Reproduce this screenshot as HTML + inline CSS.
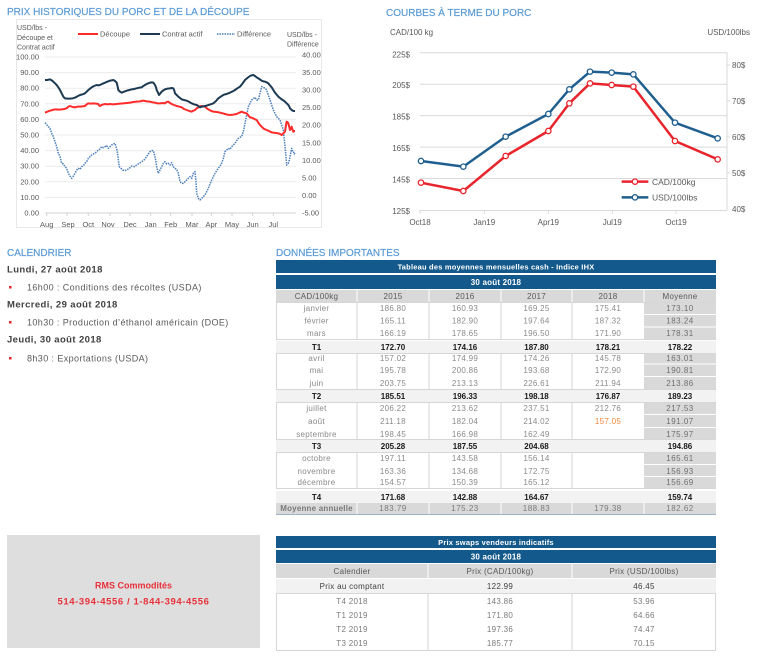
<!DOCTYPE html>
<html><head><meta charset="utf-8"><style>
html,body{margin:0;padding:0;background:#fff;}
svg{display:block;}
text{font-family:"Liberation Sans",sans-serif;}
.h{font-size:10px;fill:#5b9bd5;stroke:#5b9bd5;stroke-width:0.2px;}
.ax{font-size:7.5px;fill:#595959;}
.ax8{font-size:8px;fill:#595959;}
.v{font-size:8px;fill:#8a8a8a;letter-spacing:.3px;text-anchor:middle;}
.m{font-size:8px;fill:#6f6f6f;letter-spacing:.5px;text-anchor:middle;}
.b{font-size:8px;fill:#1a1a1a;font-weight:bold;text-anchor:middle;}
.hd{font-size:8px;fill:#595959;letter-spacing:.3px;text-anchor:middle;}
.w{font-size:7.5px;fill:#fff;font-weight:bold;text-anchor:middle;letter-spacing:.2px;}
.cal{font-size:9px;fill:#595959;letter-spacing:.4px;}
.calb{font-size:9.5px;fill:#404040;font-weight:bold;letter-spacing:.4px;}
</style></head><body>
<svg width="766" height="661" viewBox="0 0 766 661" xmlns="http://www.w3.org/2000/svg">
<rect width="766" height="661" fill="#fff"/>

<!-- ============ LEFT CHART ============ -->
<text class="h" x="7" y="15">PRIX HISTORIQUES DU PORC ET DE LA DÉCOUPE</text>
<rect x="16.5" y="19.5" width="305" height="208" fill="none" stroke="#e8e8e8"/>
<g stroke="#ececec" stroke-width="1">
<line x1="45" y1="57" x2="296" y2="57"/><line x1="45" y1="72.6" x2="296" y2="72.6"/>
<line x1="45" y1="88.2" x2="296" y2="88.2"/><line x1="45" y1="103.8" x2="296" y2="103.8"/>
<line x1="45" y1="119.4" x2="296" y2="119.4"/><line x1="45" y1="135" x2="296" y2="135"/>
<line x1="45" y1="150.6" x2="296" y2="150.6"/><line x1="45" y1="166.2" x2="296" y2="166.2"/>
<line x1="45" y1="181.8" x2="296" y2="181.8"/><line x1="45" y1="197.4" x2="296" y2="197.4"/>
</g>
<line x1="45" y1="213" x2="296" y2="213" stroke="#d0d0d0"/>
<g stroke="#d0d0d0">
<line x1="46.7" y1="213" x2="46.7" y2="216"/><line x1="67" y1="213" x2="67" y2="216"/><line x1="88.3" y1="213" x2="88.3" y2="216"/><line x1="110" y1="213" x2="110" y2="216"/><line x1="130" y1="213" x2="130" y2="216"/><line x1="150.7" y1="213" x2="150.7" y2="216"/><line x1="170.7" y1="213" x2="170.7" y2="216"/><line x1="192" y1="213" x2="192" y2="216"/><line x1="211.3" y1="213" x2="211.3" y2="216"/><line x1="232" y1="213" x2="232" y2="216"/><line x1="252.7" y1="213" x2="252.7" y2="216"/><line x1="273.3" y1="213" x2="273.3" y2="216"/>
</g>
<g class="ax" text-anchor="end">
<text x="39" y="59.5">100.00</text><text x="39" y="75.1">90.00</text><text x="39" y="90.7">80.00</text>
<text x="39" y="106.3">70.00</text><text x="39" y="121.9">60.00</text><text x="39" y="137.5">50.00</text>
<text x="39" y="153.1">40.00</text><text x="39" y="168.7">30.00</text><text x="39" y="184.3">20.00</text>
<text x="39" y="199.9">10.00</text><text x="39" y="215.5">0.00</text>
</g>
<g class="ax">
<text x="302" y="57.5">40.00</text><text x="302" y="75.1">35.00</text><text x="302" y="92.6">30.00</text>
<text x="302" y="110.2">25.00</text><text x="302" y="127.7">20.00</text><text x="302" y="145.3">15.00</text>
<text x="302" y="162.8">10.00</text><text x="302" y="180.4">5.00</text><text x="302" y="197.9">0.00</text>
<text x="302" y="215.5">-5.00</text>
</g>
<g class="ax" text-anchor="middle">
<text x="46.7" y="227">Aug</text><text x="68" y="227">Sep</text><text x="88.3" y="227">Oct</text><text x="108" y="227">Nov</text><text x="130" y="227">Dec</text><text x="150.7" y="227">Jan</text><text x="170.7" y="227">Feb</text><text x="192" y="227">Mar</text><text x="211.3" y="227">Apr</text><text x="232" y="227">May</text><text x="252.7" y="227">Jun</text><text x="273.3" y="227">Jul</text>
</g>
<g class="ax" style="font-size:7px">
<text x="17" y="30">USD/lbs -</text><text x="17" y="40">Découpe et</text><text x="17" y="49.5">Contrat actif</text>
<text x="287" y="37">USD/lbs -</text><text x="287" y="46.5">Différence</text>
</g>
<!-- legend -->
<line x1="78" y1="34" x2="98" y2="34" stroke="#ff2b2b" stroke-width="2"/>
<text class="ax" x="100" y="36.5">Découpe</text>
<line x1="140" y1="34" x2="160" y2="34" stroke="#1c3a52" stroke-width="2"/>
<text class="ax" x="162" y="36.5">Contrat actif</text>
<line x1="217" y1="34" x2="235" y2="34" stroke="#4a7ebb" stroke-width="1.5" stroke-dasharray="1.5 1"/>
<text class="ax" x="237" y="36.5">Différence</text>
<!-- series -->
<g transform="scale(0.333333)" fill="none" stroke-linejoin="round">
<polyline stroke="#4a7ebb" stroke-width="4.5" stroke-dasharray="4.5 3" points="135,368 145,380 150,385 155,400 160,410 165,425 170,440 175,460 180,470 185,490 190,492 195,500 200,505 205,520 210,528 215,535 220,528 225,520 230,510 235,505 240,508 245,500 250,497 255,490 260,485 265,475 270,470 275,465 280,462 285,460 290,455 295,450 300,447 305,440 310,443 315,440 320,437 325,445 330,440 335,435 340,432 345,430 348,440 352,455 355,480 358,500 363,505 368,510 374,512 380,510 388,505 395,498 403,500 410,495 418,490 425,485 432,480 440,470 445,462 450,455 455,452 460,452 463,462 467,480 470,500 475,520 480,510 485,500 490,490 495,485 500,492 505,490 510,495 515,488 518,495 520,500 525,505 530,508 535,520 540,545 545,550 550,550 555,545 560,540 565,535 570,530 575,535 580,520 585,515 588,545 590,580 595,595 600,600 605,595 610,590 615,585 620,575 625,565 630,552 635,540 640,530 645,520 650,512 655,505 660,498 665,490 670,475 675,455 680,450 685,445 690,448 695,440 700,435 705,430 710,422 715,415 720,412 725,410 730,395 735,370 740,345 745,320 750,310 755,300 760,296 765,292 770,300 775,300 780,280 785,260 790,262 795,265 800,270 805,285 810,300 815,315 820,330 825,340 830,350 835,355 840,360 845,375 850,390 853,420 855,440 858,470 860,495 863,492 865,490 868,480 870,470 873,455 875,445 878,455 880,455 883,462 885,460"/>
<polyline stroke="#ff2b2b" stroke-width="6" points="135,338 142,335 150,332 158,330 165,328 175,329 185,328 193,327 200,325 205,320 210,318 218,321 225,322 232,320 240,320 248,319 255,318 260,313 265,310 272,311 280,310 288,311 295,312 298,317 300,318 307,314 315,312 322,313 330,312 340,313 350,312 360,311 370,310 380,309 390,308 400,306 410,305 420,304 430,302 440,304 450,305 458,307 465,308 472,310 480,310 488,309 495,310 500,306 505,305 510,309 515,312 522,315 530,318 538,320 545,322 552,327 560,330 568,333 575,335 580,332 585,330 590,325 595,322 600,319 605,318 610,319 615,320 620,325 625,328 632,332 640,335 650,336 660,338 668,340 675,342 682,344 690,345 700,344 710,342 718,338 725,335 732,338 740,340 745,346 750,352 755,353 760,355 765,358 770,360 775,368 780,375 785,380 790,385 795,388 800,390 805,392 810,395 815,397 820,398 828,399 835,400 840,402 845,405 850,400 855,395 858,375 860,365 863,367 865,370 868,382 870,390 873,385 875,380 878,390 880,395 883,393 885,393"/>
<polyline stroke="#1c3a52" stroke-width="6" points="135,240 142,240 150,238 155,241 160,245 165,250 170,255 175,262 180,270 185,280 190,290 195,295 202,296 210,296 218,295 225,293 232,289 240,285 248,283 255,280 260,275 265,270 270,266 275,262 282,258 290,255 295,256 300,255 308,251 315,248 322,245 330,242 335,241 340,240 345,243 350,248 353,260 355,270 360,275 365,278 372,275 380,272 388,270 395,268 402,267 410,265 418,263 425,262 430,258 435,255 442,251 450,248 455,247 460,248 463,252 465,255 468,262 470,270 474,278 477,285 481,280 485,275 490,271 495,268 502,266 510,265 515,264 520,265 523,272 525,280 530,285 535,290 540,294 545,298 552,300 560,302 568,306 575,310 582,313 590,315 595,318 600,322 603,321 605,320 610,319 615,318 620,317 625,315 632,313 640,310 648,303 655,295 662,290 670,285 675,283 680,282 685,280 690,278 698,274 705,270 712,265 720,260 728,250 735,240 742,234 750,228 755,226 760,225 765,228 770,232 778,237 785,242 790,244 795,245 800,247 805,250 810,256 815,262 820,270 825,278 830,284 835,290 840,294 845,298 850,301 855,305 860,310 865,315 868,320 870,325 874,329 878,332 882,333 885,333"/>
</g>

<!-- ============ RIGHT CHART ============ -->
<text class="h" x="386" y="16">COURBES À TERME DU PORC</text>
<text class="ax8" x="390" y="35">CAD/100 kg</text>
<text class="ax8" x="750" y="35" text-anchor="end">USD/100lbs</text>
<g stroke="#d9d9d9" stroke-width="1">
<line x1="420" y1="52.7" x2="727" y2="52.7"/><line x1="420" y1="84.2" x2="727" y2="84.2"/>
<line x1="420" y1="115.6" x2="727" y2="115.6"/><line x1="420" y1="147.1" x2="727" y2="147.1"/>
<line x1="420" y1="178.5" x2="727" y2="178.5"/>
<line x1="420" y1="210.5" x2="727" y2="210.5"/>
<line x1="727" y1="52.7" x2="727" y2="210.5"/>
<line x1="420" y1="210" x2="420" y2="214"/><line x1="484.3" y1="210" x2="484.3" y2="214"/><line x1="548.3" y1="210" x2="548.3" y2="214"/><line x1="612.3" y1="210" x2="612.3" y2="214"/><line x1="676" y1="210" x2="676" y2="214"/>
<line x1="727" y1="65" x2="730" y2="65"/><line x1="727" y1="101" x2="730" y2="101"/><line x1="727" y1="137" x2="730" y2="137"/><line x1="727" y1="173" x2="730" y2="173"/>
</g>
<g class="ax8" text-anchor="end">
<text x="410" y="57.5">225$</text><text x="410" y="88">205$</text><text x="410" y="119.5">185$</text>
<text x="410" y="151">165$</text><text x="410" y="182.5">145$</text><text x="410" y="214">125$</text>
</g>
<g class="ax8">
<text x="732" y="68">80$</text><text x="732" y="104">70$</text><text x="732" y="140">60$</text>
<text x="732" y="176">50$</text><text x="732" y="212">40$</text>
</g>
<g class="ax8" text-anchor="middle">
<text x="420" y="225">Oct18</text><text x="484.3" y="225">Jan19</text><text x="548.3" y="225">Apr19</text><text x="612.3" y="225">Jul19</text><text x="676" y="225">Oct19</text>
</g>
<g transform="translate(370,0) scale(0.333333)" fill="none" stroke-linejoin="round">
<polyline stroke="#e8252d" stroke-width="7.5" points="153,548 280,573 407,468 535,393 598,310 660,250 725,255 790,260 915,423 1043,478"/>
<polyline stroke="#1f5f8f" stroke-width="7.5" points="153,483 280,500 407,410 535,342 598,268 660,215 725,218 790,223 915,368 1043,415"/>
<g fill="#fff" stroke="#e8252d" stroke-width="4">
<circle cx="153" cy="548" r="8"/><circle cx="280" cy="573" r="8"/><circle cx="407" cy="468" r="8"/><circle cx="535" cy="393" r="8"/><circle cx="598" cy="310" r="8"/><circle cx="660" cy="250" r="8"/><circle cx="725" cy="255" r="8"/><circle cx="790" cy="260" r="8"/><circle cx="915" cy="423" r="8"/><circle cx="1043" cy="478" r="8"/>
</g>
<g fill="#fff" stroke="#1f5f8f" stroke-width="4">
<circle cx="153" cy="483" r="8"/><circle cx="280" cy="500" r="8"/><circle cx="407" cy="410" r="8"/><circle cx="535" cy="342" r="8"/><circle cx="598" cy="268" r="8"/><circle cx="660" cy="215" r="8"/><circle cx="725" cy="218" r="8"/><circle cx="790" cy="223" r="8"/><circle cx="915" cy="368" r="8"/><circle cx="1043" cy="415" r="8"/>
</g>
<line x1="755" y1="545" x2="835" y2="545" stroke="#e8252d" stroke-width="7.5"/>
<circle cx="795" cy="545" r="8" fill="#fff" stroke="#e8252d" stroke-width="4"/>
<line x1="755" y1="592" x2="835" y2="592" stroke="#1f5f8f" stroke-width="7.5"/>
<circle cx="795" cy="592" r="8" fill="#fff" stroke="#1f5f8f" stroke-width="4"/>
</g>
<text class="ax8" x="652" y="185" style="font-size:8.5px">CAD/100kg</text>
<text class="ax8" x="652" y="200.5" style="font-size:8.5px">USD/100lbs</text>

<!-- ============ CALENDRIER ============ -->
<text class="h" x="7" y="256">CALENDRIER</text>
<text class="calb" x="7" y="272.5">Lundi, 27 août 2018</text>
<rect x="9" y="286" width="2.5" height="2.5" fill="#e8252d"/>
<text class="cal" x="27" y="290.5">16h00 : Conditions des récoltes (USDA)</text>
<text class="calb" x="7" y="307.5">Mercredi, 29 août 2018</text>
<rect x="9" y="321" width="2.5" height="2.5" fill="#e8252d"/>
<text class="cal" x="27" y="325.5">10h30 : Production d’éthanol américain (DOE)</text>
<text class="calb" x="7" y="342.5">Jeudi, 30 août 2018</text>
<rect x="9" y="357" width="2.5" height="2.5" fill="#e8252d"/>
<text class="cal" x="27" y="361.5">8h30 : Exportations (USDA)</text>

<!-- ============ DONNEES IMPORTANTES ============ -->
<text class="h" x="276" y="256">DONNÉES IMPORTANTES</text>
<rect x="276" y="260" width="440" height="13" fill="#13598b"/>
<rect x="276" y="275" width="440" height="14" fill="#13598b"/>
<text class="w" x="496" y="269.5">Tableau des moyennes mensuelles cash - Indice IHX</text>
<text class="w" x="496" y="285" style="font-size:8px">30 août 2018</text>
<rect x="276" y="290" width="440" height="12" fill="#d9d9d9"/>
<g stroke="#fff"><line x1="357" y1="290" x2="357" y2="302"/><line x1="429" y1="290" x2="429" y2="302"/><line x1="501" y1="290" x2="501" y2="302"/><line x1="572" y1="290" x2="572" y2="302"/><line x1="644" y1="290" x2="644" y2="302"/></g>
<g class="hd"><text x="316.5" y="299">CAD/100kg</text><text x="393" y="299">2015</text><text x="465" y="299">2016</text><text x="536.5" y="299">2017</text><text x="608" y="299">2018</text><text x="680" y="299">Moyenne</text></g>

<!-- blocks -->
<g fill="#fff" stroke="#d6d6d6">
<rect x="276.5" y="302.5" width="439" height="37"/>
<rect x="276.5" y="353.5" width="439" height="36"/>
<rect x="276.5" y="402.5" width="439" height="37"/>
<rect x="276.5" y="452.5" width="439" height="36"/>
</g>
<g fill="#d9d9d9">
<rect x="644" y="303" width="72" height="36"/><rect x="644" y="354" width="72" height="35"/><rect x="644" y="403" width="72" height="36"/><rect x="644" y="453" width="72" height="35"/>
</g>
<g stroke="#fff"><line x1="644" y1="314.5" x2="716" y2="314.5"/><line x1="644" y1="327" x2="716" y2="327"/><line x1="644" y1="364" x2="716" y2="364"/><line x1="644" y1="376.5" x2="716" y2="376.5"/><line x1="644" y1="414.5" x2="716" y2="414.5"/><line x1="644" y1="427.5" x2="716" y2="427.5"/><line x1="644" y1="464.5" x2="716" y2="464.5"/><line x1="644" y1="476.5" x2="716" y2="476.5"/></g>
<g stroke="#d6d6d6">
<line x1="357" y1="303" x2="357" y2="339"/><line x1="429" y1="303" x2="429" y2="339"/><line x1="501" y1="303" x2="501" y2="339"/><line x1="572" y1="303" x2="572" y2="339"/>
<line x1="357" y1="354" x2="357" y2="389"/><line x1="429" y1="354" x2="429" y2="389"/><line x1="501" y1="354" x2="501" y2="389"/><line x1="572" y1="354" x2="572" y2="389"/>
<line x1="357" y1="403" x2="357" y2="439"/><line x1="429" y1="403" x2="429" y2="439"/><line x1="501" y1="403" x2="501" y2="439"/><line x1="572" y1="403" x2="572" y2="439"/>
<line x1="357" y1="453" x2="357" y2="488"/><line x1="429" y1="453" x2="429" y2="488"/><line x1="501" y1="453" x2="501" y2="488"/><line x1="572" y1="453" x2="572" y2="488"/>
</g>
<g fill="#f2f2f2">
<rect x="276" y="341" width="440" height="12"/><rect x="276" y="390" width="440" height="12"/><rect x="276" y="440" width="440" height="12"/><rect x="276" y="491" width="440" height="12"/>
</g>
<rect x="276" y="503" width="440" height="11" fill="#d9d9d9"/>
<line x1="276" y1="514.5" x2="716" y2="514.5" stroke="#9db3c8"/>
<g stroke="#fff"><line x1="357" y1="503" x2="357" y2="514"/><line x1="429" y1="503" x2="429" y2="514"/><line x1="501" y1="503" x2="501" y2="514"/><line x1="572" y1="503" x2="572" y2="514"/><line x1="644" y1="503" x2="644" y2="514"/></g>

<!-- Q1 -->
<g class="v"><text x="316.5" y="311">janvier</text><text x="393" y="311">186.80</text><text x="465" y="311">160.93</text><text x="536.5" y="311">169.25</text><text x="608" y="311">175.41</text></g>
<text class="m" x="680" y="311">173.10</text>
<g class="v"><text x="316.5" y="323.5">février</text><text x="393" y="323.5">165.11</text><text x="465" y="323.5">182.90</text><text x="536.5" y="323.5">197.64</text><text x="608" y="323.5">187.32</text></g>
<text class="m" x="680" y="323.5">183.24</text>
<g class="v"><text x="316.5" y="336">mars</text><text x="393" y="336">166.19</text><text x="465" y="336">178.65</text><text x="536.5" y="336">196.50</text><text x="608" y="336">171.90</text></g>
<text class="m" x="680" y="336">178.31</text>
<g class="b"><text x="316.5" y="350">T1</text><text x="393" y="350">172.70</text><text x="465" y="350">174.16</text><text x="536.5" y="350">187.80</text><text x="608" y="350">178.21</text><text x="680" y="350">178.22</text></g>
<!-- Q2 -->
<g class="v"><text x="316.5" y="361">avril</text><text x="393" y="361">157.02</text><text x="465" y="361">174.99</text><text x="536.5" y="361">174.26</text><text x="608" y="361">145.78</text></g>
<text class="m" x="680" y="361">163.01</text>
<g class="v"><text x="316.5" y="373">mai</text><text x="393" y="373">195.78</text><text x="465" y="373">200.86</text><text x="536.5" y="373">193.68</text><text x="608" y="373">172.90</text></g>
<text class="m" x="680" y="373">190.81</text>
<g class="v"><text x="316.5" y="386">juin</text><text x="393" y="386">203.75</text><text x="465" y="386">213.13</text><text x="536.5" y="386">226.61</text><text x="608" y="386">211.94</text></g>
<text class="m" x="680" y="386">213.86</text>
<g class="b"><text x="316.5" y="399">T2</text><text x="393" y="399">185.51</text><text x="465" y="399">196.33</text><text x="536.5" y="399">198.18</text><text x="608" y="399">176.87</text><text x="680" y="399">189.23</text></g>
<!-- Q3 -->
<g class="v"><text x="316.5" y="411">juillet</text><text x="393" y="411">206.22</text><text x="465" y="411">213.62</text><text x="536.5" y="411">237.51</text><text x="608" y="411">212.76</text></g>
<text class="m" x="680" y="411">217.53</text>
<g class="v"><text x="316.5" y="424">août</text><text x="393" y="424">211.18</text><text x="465" y="424">182.04</text><text x="536.5" y="424">214.02</text><text x="608" y="424" style="fill:#f0883a">157.05</text></g>
<text class="m" x="680" y="424">191.07</text>
<g class="v"><text x="316.5" y="437">septembre</text><text x="393" y="437">198.45</text><text x="465" y="437">166.98</text><text x="536.5" y="437">162.49</text></g>
<text class="m" x="680" y="437">175.97</text>
<g class="b"><text x="316.5" y="449">T3</text><text x="393" y="449">205.28</text><text x="465" y="449">187.55</text><text x="536.5" y="449">204.68</text><text x="680" y="449">194.86</text></g>
<!-- Q4 -->
<g class="v"><text x="316.5" y="461">octobre</text><text x="393" y="461">197.11</text><text x="465" y="461">143.58</text><text x="536.5" y="461">156.14</text></g>
<text class="m" x="680" y="461">165.61</text>
<g class="v"><text x="316.5" y="474">novembre</text><text x="393" y="474">163.36</text><text x="465" y="474">134.68</text><text x="536.5" y="474">172.75</text></g>
<text class="m" x="680" y="474">156.93</text>
<g class="v"><text x="316.5" y="485">décembre</text><text x="393" y="485">154.57</text><text x="465" y="485">150.39</text><text x="536.5" y="485">165.12</text></g>
<text class="m" x="680" y="485">156.69</text>
<g class="b"><text x="316.5" y="500">T4</text><text x="393" y="500">171.68</text><text x="465" y="500">142.88</text><text x="536.5" y="500">164.67</text><text x="680" y="500">159.74</text></g>
<g class="m" style="fill:#7a7a7a"><text x="316.5" y="511" style="font-weight:bold;letter-spacing:.2px">Moyenne annuelle</text><text x="393" y="511">183.79</text><text x="465" y="511">175.23</text><text x="536.5" y="511">188.83</text><text x="608" y="511">179.38</text><text x="680" y="511">182.62</text></g>

<!-- ============ GREY BOX ============ -->
<rect x="7" y="535" width="253" height="113" fill="#dedede"/>
<text x="133.5" y="588.5" text-anchor="middle" style="font-size:9px;fill:#e8303a;font-weight:bold">RMS Commodités</text>
<text x="133.5" y="604.5" text-anchor="middle" style="font-size:9.5px;fill:#e8303a;font-weight:bold;letter-spacing:.6px">514-394-4556 / 1-844-394-4556</text>

<!-- ============ SWAPS TABLE ============ -->
<rect x="276" y="536" width="440" height="12" fill="#13598b"/>
<rect x="276" y="550" width="440" height="13" fill="#13598b"/>
<text class="w" x="496" y="545">Prix swaps vendeurs indicatifs</text>
<text class="w" x="496" y="559.5" style="font-size:8px">30 août 2018</text>
<rect x="276" y="564" width="440" height="14" fill="#d9d9d9"/>
<g stroke="#fff"><line x1="428" y1="564" x2="428" y2="578"/><line x1="572" y1="564" x2="572" y2="578"/></g>
<g class="hd"><text x="352" y="574">Calendier</text><text x="500" y="574">Prix (CAD/100kg)</text><text x="644" y="574">Prix (USD/100lbs)</text></g>
<rect x="276" y="579" width="440" height="14" fill="#f2f2f2"/>
<g class="hd" style="fill:#404040"><text x="352" y="589">Prix au comptant</text><text x="500" y="589">122.99</text><text x="644" y="589">46.45</text></g>
<rect x="276.5" y="593.5" width="439" height="57" fill="#fff" stroke="#d6d6d6"/>
<g stroke="#d6d6d6"><line x1="428" y1="594" x2="428" y2="650"/><line x1="572" y1="594" x2="572" y2="650"/></g>
<g class="v" style="fill:#7a7a7a">
<text x="352" y="604">T4 2018</text><text x="500" y="604">143.86</text><text x="644" y="604">53.96</text>
<text x="352" y="618">T1 2019</text><text x="500" y="618">171.80</text><text x="644" y="618">64.66</text>
<text x="352" y="632">T2 2019</text><text x="500" y="632">197.36</text><text x="644" y="632">74.47</text>
<text x="352" y="646">T3 2019</text><text x="500" y="646">185.77</text><text x="644" y="646">70.15</text>
</g>
</svg>
</body></html>
